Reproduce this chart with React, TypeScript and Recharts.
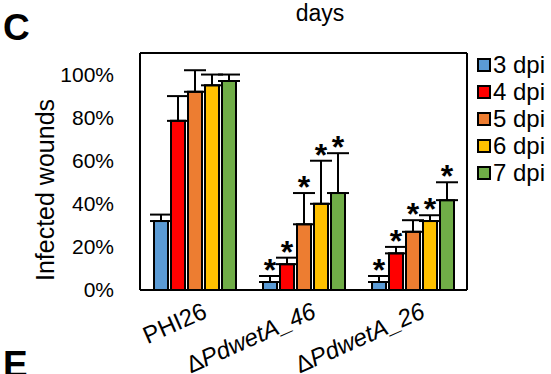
import { Bar, BarChart, ErrorBar, LabelList, XAxis, YAxis } from "recharts";

const FONT = "'Liberation Sans', Arial, sans-serif";

const CATEGORIES = ["PHI26", "ΔPdwetA_46", "ΔPdwetA_26"];
const SERIES = ["3 dpi", "4 dpi", "5 dpi", "6 dpi", "7 dpi"];
const COLORS = ["#5B9BD5", "#FF0000", "#ED7D31", "#FFC000", "#70AD47"];

// infected fraction per series, one value per category
const MEAN_3 = [0.32, 0.037, 0.037];
const MEAN_4 = [0.785, 0.12, 0.17];
const MEAN_5 = [0.92, 0.305, 0.27];
const MEAN_6 = [0.95, 0.4, 0.32];
const MEAN_7 = [0.97, 0.45, 0.417];

// upper error (SD) per series
const ERR_3 = [0.03, 0.028, 0.028];
const ERR_4 = [0.115, 0.03, 0.03];
const ERR_5 = [0.1, 0.145, 0.054];
const ERR_6 = [0.05, 0.2, 0.027];
const ERR_7 = [0.03, 0.185, 0.083];

// significant vs PHI26
const SIGNIFICANT = [false, true, true];

const Y_TICKS = [0, 0.2, 0.4, 0.6, 0.8, 1];

const MEANS = [MEAN_3, MEAN_4, MEAN_5, MEAN_6, MEAN_7];
const ERRS = [ERR_3, ERR_4, ERR_5, ERR_6, ERR_7];

const data = CATEGORIES.map((name, c) => {
    const row: Record<string, string | number | number[]> = { name };
    MEANS.forEach((m, s) => {
        row[`v${s}`] = m[c];
        row[`e${s}`] = [0, ERRS[s][c]];
    });
    return row;
});

function CategoryTick(props: any) {
    const { x, y, payload } = props;
    const label: string = payload.value;
    const delta = label.startsWith("Δ");
    const ax = x + 14;
    const ay = y + 19;
    return (
        <text
            x={ax}
            y={ay}
            textAnchor="end"
            transform={`rotate(-24, ${ax}, ${ay})`}
            fontFamily={FONT}
            fontSize={24}
            fill="#000"
        >
            {delta ? (
                <>
                    <tspan>Δ</tspan>
                    <tspan fontStyle="italic">{label.slice(1)}</tspan>
                </>
            ) : (
                label
            )}
        </text>
    );
}

function makeStar(series: number) {
    return (props: any) => {
        const { x, y, width, height, value, index } = props;
        if (!SIGNIFICANT[index] || !value) return null;
        const perUnit = height / value;
        const capY = y - ERRS[series][index] * perUnit;
        return (
            <text
                x={x + width / 2}
                y={capY + 5}
                textAnchor="middle"
                fontFamily={FONT}
                fontSize={32}
                fontWeight="bold"
                fill="#000"
            >
                *
            </text>
        );
    };
}

export default function App() {
    return (
        <div style={{ position: "absolute", left: 0, top: 0, width: 551, height: 374, background: "#fff" }}>
            <BarChart
                width={551}
                height={374}
                data={data}
                margin={{ top: 52, right: 83, bottom: 0, left: 0 }}
                barSize={14}
                barGap={3}
            >
                <XAxis
                    dataKey="name"
                    height={84}
                    axisLine={{ stroke: "#000", strokeWidth: 2 }}
                    tickLine={false}
                    tick={<CategoryTick />}
                    interval={0}
                />
                <XAxis xAxisId="top" orientation="top" dataKey="name" height={1} tick={false} tickLine={false} axisLine={{ stroke: "#000", strokeWidth: 2 }} />
                <YAxis
                    width={140}
                    domain={[0, 1.1]}
                    ticks={Y_TICKS}
                    tickFormatter={(v: number) => `${Math.round(v * 100)}%`}
                    axisLine={{ stroke: "#000", strokeWidth: 2 }}
                    tickLine={false}
                    tickMargin={20}
                    tick={{ fill: "#000", fontSize: 21, fontFamily: FONT }}
                />
                <YAxis yAxisId="right" orientation="right" width={1} domain={[0, 1.1]} tick={false} tickLine={false} axisLine={{ stroke: "#000", strokeWidth: 2 }} />
                {SERIES.map((s, i) => (
                    <Bar key={s} dataKey={`v${i}`} name={s} fill={COLORS[i]} stroke="#000" strokeWidth={2} isAnimationActive={false}>
                        <ErrorBar dataKey={`e${i}`} width={11} stroke="#000" strokeWidth={2} isAnimationActive={false} />
                        <LabelList dataKey={`v${i}`} content={makeStar(i)} />
                    </Bar>
                ))}
                <text x={45} y={190} transform="rotate(-90, 45, 190)" textAnchor="middle" dominantBaseline="central" fontFamily={FONT} fontSize={25} fill="#000">
                    Infected wounds
                </text>
                <text x={320} y={21} textAnchor="middle" fontFamily={FONT} fontSize={23} fill="#000">
                    days
                </text>
                <text x={3} y={40} fontFamily={FONT} fontSize={37} fontWeight="bold" fill="#000">
                    C
                </text>
                <text x={3} y={377} fontFamily={FONT} fontSize={37} fontWeight="bold" fill="#000">
                    E
                </text>
                {SERIES.map((s, i) => (
                    <g key={s}>
                        <rect x={478} y={59 + i * 27} width={12} height={12} fill={COLORS[i]} stroke="#000" strokeWidth={2} />
                        <text x={493} y={73 + i * 27} fontFamily={FONT} fontSize={24} fill="#000">
                            {s}
                        </text>
                    </g>
                ))}
            </BarChart>
        </div>
    );
}
